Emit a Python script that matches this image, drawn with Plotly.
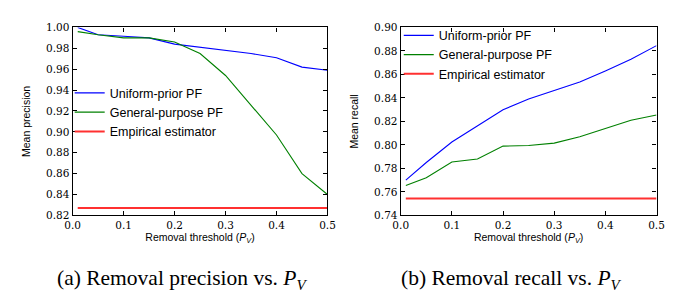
import plotly.graph_objects as go

thresholds = [0.01, 0.05, 0.1, 0.15, 0.2, 0.25, 0.3, 0.35, 0.4, 0.45, 0.5]

precision_uniform = [1.000, 0.993, 0.9915, 0.990, 0.984, 0.981, 0.978, 0.975, 0.971, 0.962, 0.959]
precision_general = [0.996, 0.993, 0.990, 0.990, 0.986, 0.975, 0.954, 0.926, 0.897, 0.860, 0.840]
precision_empirical = [0.827] * len(thresholds)

recall_uniform = [0.770, 0.785, 0.8025, 0.816, 0.830, 0.839, 0.846, 0.8535, 0.863, 0.873, 0.8845]
recall_general = [0.7655, 0.772, 0.7855, 0.788, 0.799, 0.7995, 0.8015, 0.807, 0.814, 0.821, 0.8255]
recall_empirical = [0.7543] * len(thresholds)

series_names = ["Uniform-prior PF", "General-purpose PF", "Empirical estimator"]
series_colors = ["#0000ff", "#008000", "#ff3030"]
series_widths = [1.1, 1.1, 2]

x_ticks = [0.0, 0.1, 0.2, 0.3, 0.4, 0.5]
prec_ticks = [0.82, 0.84, 0.86, 0.88, 0.90, 0.92, 0.94, 0.96, 0.98, 1.00]
rec_ticks = [0.74, 0.76, 0.78, 0.80, 0.82, 0.84, 0.86, 0.88, 0.90]

W, H = 678, 293
fig = go.Figure()

left_sets = [precision_uniform, precision_general, precision_empirical]
right_sets = [recall_uniform, recall_general, recall_empirical]
for i, ys in enumerate(left_sets):
    fig.add_trace(go.Scatter(x=thresholds, y=ys, mode="lines", name=series_names[i],
                             line=dict(color=series_colors[i], width=series_widths[i]),
                             xaxis="x", yaxis="y", legend="legend"))
for i, ys in enumerate(right_sets):
    fig.add_trace(go.Scatter(x=thresholds, y=ys, mode="lines", name=series_names[i],
                             line=dict(color=series_colors[i], width=series_widths[i]),
                             xaxis="x2", yaxis="y2", legend="legend2"))

tick_font = dict(family="DejaVu Serif", size=10.5, color="black")
title_font = dict(family="Liberation Sans, Arial", size=10.5, color="black")

def xaxis(domain, anchor):
    return dict(domain=domain, anchor=anchor, range=[0, 0.5], tickvals=x_ticks,
                tickformat=".1f", ticks="inside", ticklen=4, tickcolor="black",
                showline=True, linecolor="black", linewidth=1.2, mirror="ticks",
                showgrid=False, zeroline=False, tickfont=tick_font,
                title=dict(text="Removal threshold (<i>P</i><sub><i>V</i></sub>)", font=title_font, standoff=0))

def yaxis(domain, anchor, rng, tv, title):
    return dict(domain=domain, anchor=anchor, range=rng, tickvals=tv,
                tickformat=".2f", ticks="inside", ticklen=4, tickcolor="black",
                showline=True, linecolor="black", linewidth=1.2, mirror="ticks",
                showgrid=False, zeroline=False, tickfont=tick_font,
                title=dict(text=title, font=title_font, standoff=13))

ydom = [1 - 210 / H, 1 - 14 / H]
fig.update_layout(
    width=W, height=H, margin=dict(l=0, r=0, t=0, b=0),
    paper_bgcolor="white", plot_bgcolor="white",
    xaxis=xaxis([58 / W, 319 / W], "y"),
    yaxis=yaxis(ydom, "x", [0.82, 1.0], prec_ticks, "Mean precision"),
    xaxis2=xaxis([394 / W, 656 / W], "y2"),
    yaxis2=yaxis(ydom, "x2", [0.74, 0.90], rec_ticks, "Mean recall"),
    legend=dict(x=55 / W, y=1 - 67 / H, xanchor="left", yanchor="top",
                bgcolor="rgba(0,0,0,0)", font=dict(family="Liberation Sans, Arial", size=12.5, color="black")),
    legend2=dict(x=392 / W, y=1 - 7 / H, xanchor="left", yanchor="top",
                 bgcolor="rgba(0,0,0,0)", font=dict(family="Liberation Sans, Arial", size=12.5, color="black")),
    showlegend=True,
)

cap_font = dict(family="Liberation Serif, Times New Roman", size=21.5, color="black")
fig.add_annotation(text="(a) Removal precision vs. <i>P</i><sub><i>V</i></sub>", x=170 / W, y=1 - 277 / H,
                   xref="paper", yref="paper", xanchor="center", yanchor="middle",
                   showarrow=False, font=cap_font)
fig.add_annotation(text="(b) Removal recall vs. <i>P</i><sub><i>V</i></sub>", x=507 / W, y=1 - 277 / H,
                   xref="paper", yref="paper", xanchor="center", yanchor="middle",
                   showarrow=False, font=cap_font)

fig.write_html("out.html")
